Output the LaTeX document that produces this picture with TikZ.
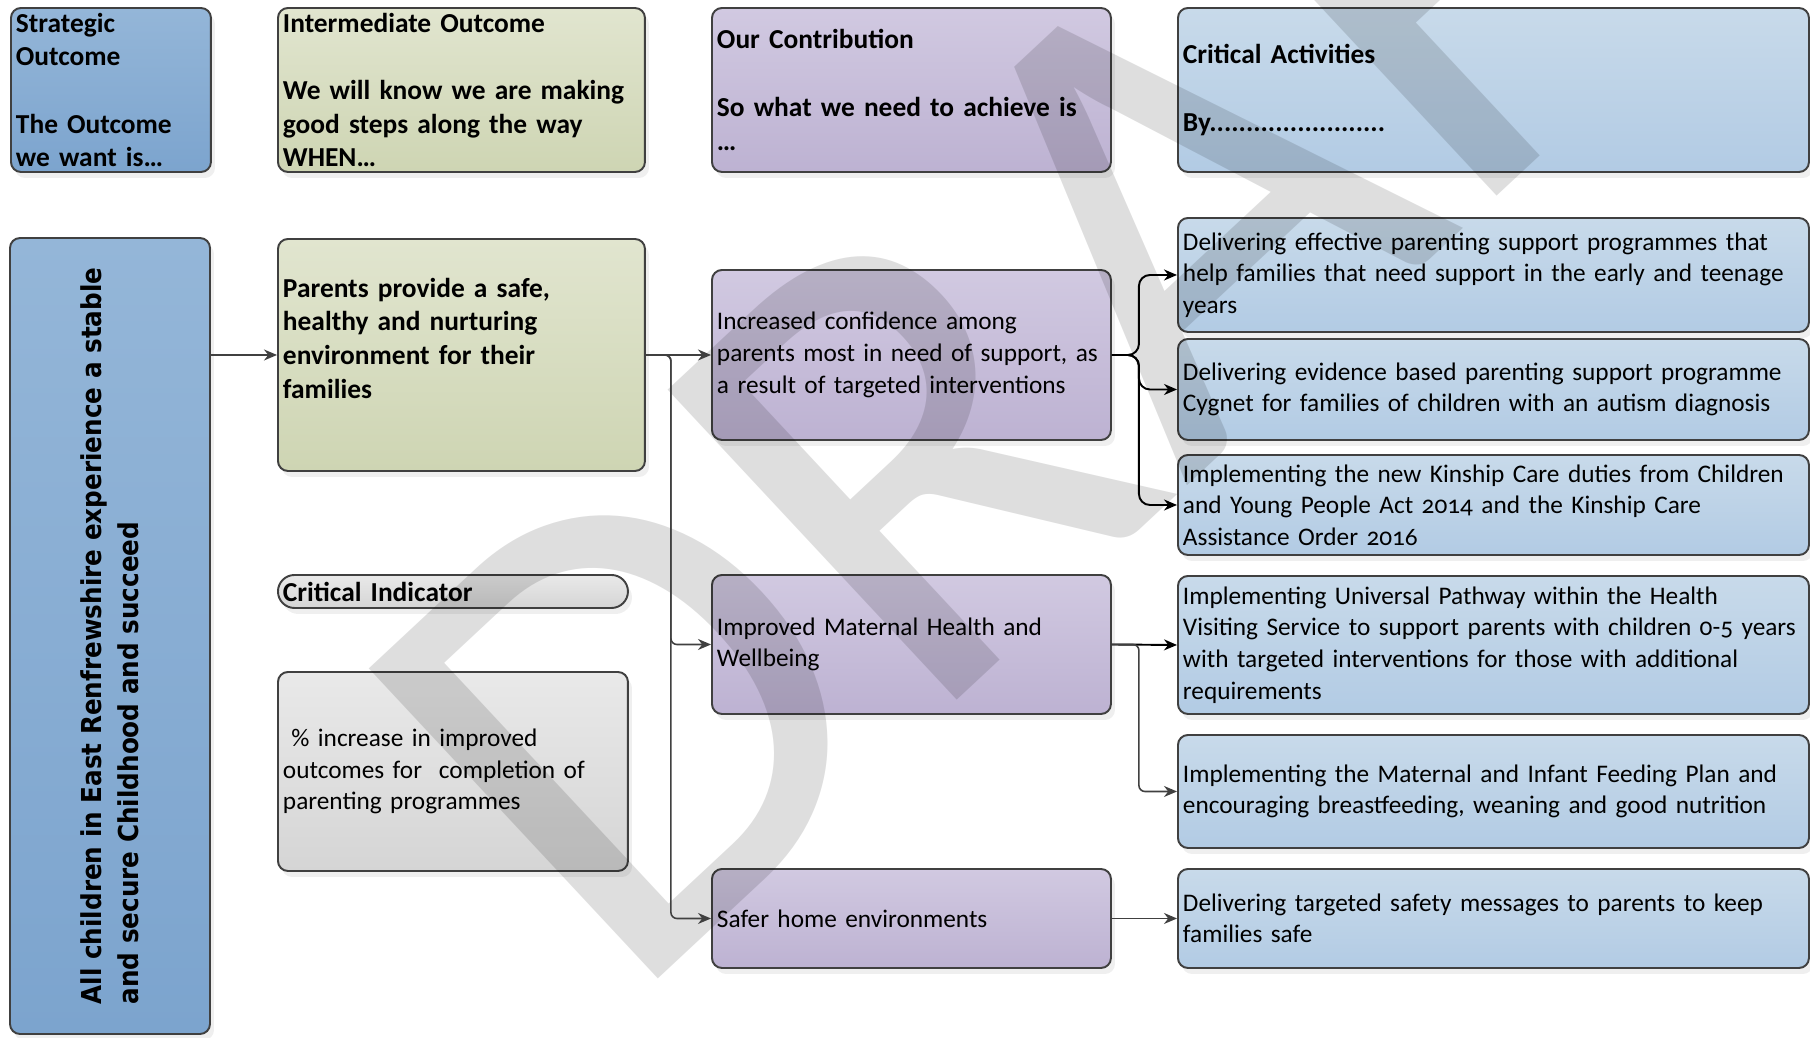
\documentclass[tikz,border=0pt]{standalone}
\usepackage{fontspec}
\setmainfont{Carlito}[Numbers=OldStyle]
\newfontfamily\outcomefont{DejaVu Sans}[FakeStretch=0.9]
\usepackage{xcolor}
\usepackage{tikz}
\usetikzlibrary{arrows.meta,shadows}

\definecolor{edgegray}{RGB}{64,64,64}
\definecolor{stratA}{RGB}{148,182,216}
\definecolor{stratB}{RGB}{124,164,206}
\definecolor{interA}{RGB}{225,229,207}
\definecolor{interB}{RGB}{206,213,179}
\definecolor{contA}{RGB}{209,201,225}
\definecolor{contB}{RGB}{189,178,210}
\definecolor{actA}{RGB}{200,218,234}
\definecolor{actB}{RGB}{178,203,228}
\definecolor{indA}{RGB}{233,233,233}
\definecolor{indB}{RGB}{213,213,213}

\begin{document}
\begin{tikzpicture}%
                [x=0.1mm, y=-0.1mm,
                box/.style={draw=edgegray, line width=0.55pt, rounded corners=1mm,
                            anchor=north west, align=left, inner xsep=0.5mm, inner ysep=0pt,
                            drop shadow={shadow xshift=0.4mm, shadow yshift=-0.6mm, opacity=0.12}},
                stratfill/.style={top color=stratA, bottom color=stratB},
                interfill/.style={top color=interA, bottom color=interB},
                contfill/.style={top color=contA, bottom color=contB},
                actfill/.style={top color=actA, bottom color=actB},
                indfill/.style={top color=indA, bottom color=indB},
                headfont/.style={font=\bfseries\fontsize{7.8}{9.6}\selectfont},
                bodyfont/.style={font=\fontsize{7.2}{9}\selectfont},
                link/.style={draw=edgegray, line width=0.45pt, rounded corners=0.6mm,
                             -{Stealth[length=1.3mm, width=1.1mm]}},
                fork/.style={draw=black, line width=0.55pt, rounded corners=1.1mm,
                             -{Stealth[length=1.3mm, width=1.1mm]}},
                watermark/.style={text=black, text opacity=0.13, inner sep=0pt,
                                  font=\fontsize{188}{188}\selectfont}]

            \useasboundingbox (0,0) rectangle (1810,1037);
            \fill[white] (0,0) rectangle (1810,1037);

            %% Column headers
            \node[box, stratfill, headfont, text width=19mm, minimum height=16.4mm] (strathead) at (10,7)
                {Strategic\\Outcome\\[9.6pt]The Outcome\\we want is…};
            \node[box, interfill, headfont, text width=35.7mm, minimum height=16.4mm] (interhead) at (277,7)
                {Intermediate Outcome\\[9.6pt]We will know we are making\\good steps along the way\\WHEN…};
            \node[box, contfill, headfont, text width=38.9mm, minimum height=16.4mm] (conthead) at (711,7)
                {Our Contribution\\[9.6pt]So what we need to achieve is\\…};
            \node[box, actfill, headfont, text width=62.1mm, minimum height=16.4mm] (acthead) at (1177,7)
                {Critical Activities\\[9.6pt]By........................};

            %% Strategic outcome
            \node[box, stratfill, rotate=90, anchor=center, minimum width=79.6mm, minimum height=20mm,
                  font=\outcomefont\bfseries\fontsize{7.8}{10.5}\selectfont] (strat) at (110,636)
                {All children in East Renfrewshire experience a stable\\and secure Childhood and succeed};

            %% Intermediate outcome and indicator
            \node[box, interfill, headfont, text width=35.7mm, minimum height=23.2mm] (parents) at (277,238)
                {Parents provide a safe,\\healthy and nurturing\\environment for their\\families\\ \mbox{}};
            \node[box, indfill, headfont, text width=34mm, minimum height=3.3mm, rounded corners=1.65mm] (indhead) at (277,574)
                {Critical Indicator};
            \node[box, indfill, bodyfont, text width=34mm, minimum height=19.9mm] (indicator) at (277,671)
                {\ \% increase in improved\\outcomes for\ \ completion of\\parenting programmes};

            %% Our contribution
            \node[box, contfill, bodyfont, text width=38.9mm, minimum height=17mm] (confidence) at (711,269)
                {Increased confidence among\\parents most in need of support, as\\a result of targeted interventions};
            \node[box, contfill, bodyfont, text width=38.9mm, minimum height=13.9mm] (maternal) at (711,574)
                {Improved Maternal Health and\\Wellbeing};
            \node[box, contfill, bodyfont, text width=38.9mm, minimum height=9.9mm] (safer) at (711,868)
                {Safer home environments};

            %% Critical activities
            \node[box, actfill, bodyfont, text width=62.1mm, minimum height=11.4mm] (act1) at (1177,217)
                {Delivering effective parenting support programmes that\\help families that need support in the early and teenage\\years};
            \node[box, actfill, bodyfont, text width=62.1mm, minimum height=10.1mm] (act2) at (1177,338)
                {Delivering evidence based parenting support programme\\Cygnet for families of children with an autism diagnosis};
            \node[box, actfill, bodyfont, text width=62.1mm, minimum height=10mm] (act3) at (1177,454)
                {Implementing the new Kinship Care duties from Children\\and Young People Act 2014 and the Kinship Care\\Assistance Order 2016};
            \node[box, actfill, bodyfont, text width=62.1mm, minimum height=13.8mm] (act4) at (1177,575)
                {Implementing Universal Pathway within the Health\\Visiting Service to support parents with children 0-5 years\\with targeted interventions for those with additional\\requirements};
            \node[box, actfill, bodyfont, text width=62.1mm, minimum height=11.3mm] (act5) at (1177,734)
                {Implementing the Maternal and Infant Feeding Plan and\\encouraging breastfeeding, weaning and good nutrition};
            \node[box, actfill, bodyfont, text width=62.1mm, minimum height=9.9mm] (act6) at (1177,868)
                {Delivering targeted safety messages to parents to keep\\families safe};

            %% Watermark
            \node[watermark, rotate=43, anchor=base west] (draft) at (625,1010) {DRAFT};

            %% Connectors
            \draw[link] (parents.west -| strat.south) -- (parents.west);
            \draw[link] (parents.east) -- (confidence.west);
            \draw[link] (parents.east) -- ++(25,0) |- (maternal.west);
            \draw[link] (parents.east) -- ++(25,0) |- (safer.west);
            \draw[fork] (confidence.east) -- ++(27,0) |- (act1.west);
            \draw[fork] (confidence.east) -- ++(27,0) |- (act2.west);
            \draw[fork] (confidence.east) -- ++(27,0) |- (act3.west);
            \draw[fork] (maternal.east) -- (act4.west);
            \draw[link] (maternal.east) -- ++(27,0) |- (act5.west);
            \draw[link] (safer.east) -- (act6.west);
\end{tikzpicture}
\end{document}
